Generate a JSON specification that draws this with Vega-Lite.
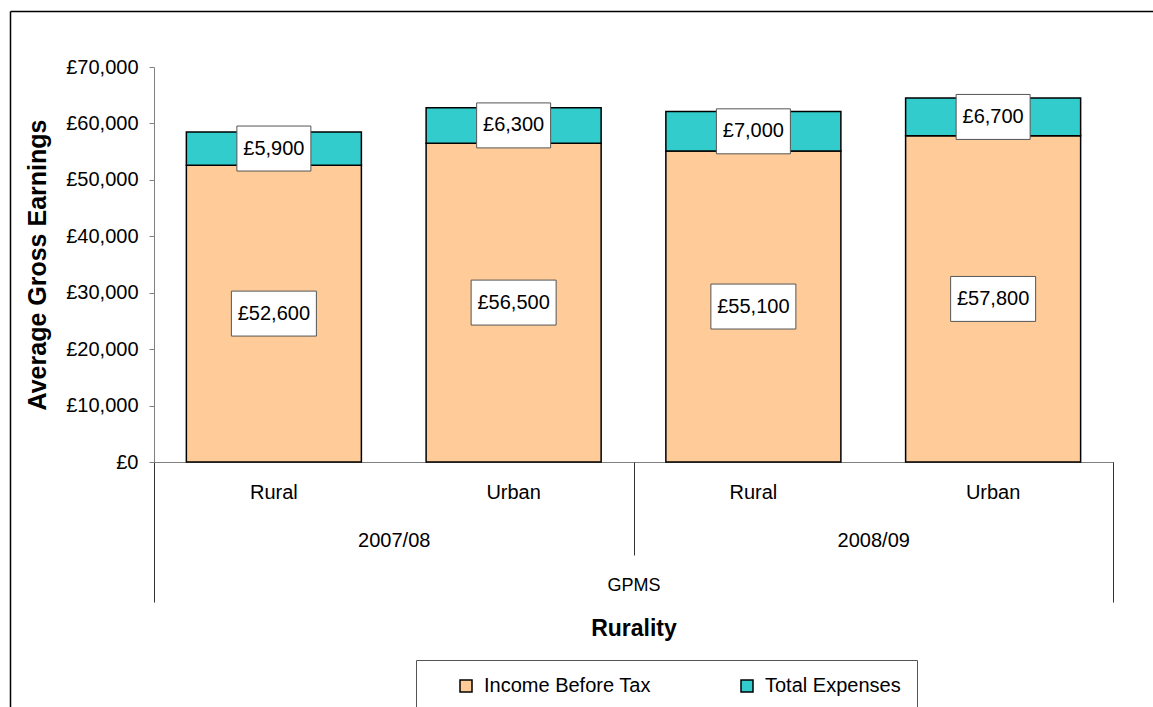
{
  "$schema": "https://vega.github.io/schema/vega-lite/v6.json",
  "width": 959,
  "height": 395,
  "autosize": "none",
  "padding": {"left": 154, "top": 67, "right": 40, "bottom": 245},
  "background": "white",
  "config": {
    "font": "Liberation Sans",
    "locale": {"number": {"decimal": ".", "thousands": ",", "grouping": [3], "currency": ["£", ""]}},
    "view": {"stroke": null},
    "axis": {"labelColor": "#000", "titleColor": "#000", "labelFont": "Liberation Sans", "titleFont": "Liberation Sans", "grid": false}
  },
  "data": {
    "values": [
      {"group": "GPMS", "year": "2007/08", "rurality": "Rural", "cat": "2007/08 Rural", "series": "Income Before Tax", "value": 52600},
      {"group": "GPMS", "year": "2007/08", "rurality": "Rural", "cat": "2007/08 Rural", "series": "Total Expenses", "value": 5900},
      {"group": "GPMS", "year": "2007/08", "rurality": "Urban", "cat": "2007/08 Urban", "series": "Income Before Tax", "value": 56500},
      {"group": "GPMS", "year": "2007/08", "rurality": "Urban", "cat": "2007/08 Urban", "series": "Total Expenses", "value": 6300},
      {"group": "GPMS", "year": "2008/09", "rurality": "Rural", "cat": "2008/09 Rural", "series": "Income Before Tax", "value": 55100},
      {"group": "GPMS", "year": "2008/09", "rurality": "Rural", "cat": "2008/09 Rural", "series": "Total Expenses", "value": 7000},
      {"group": "GPMS", "year": "2008/09", "rurality": "Urban", "cat": "2008/09 Urban", "series": "Income Before Tax", "value": 57800},
      {"group": "GPMS", "year": "2008/09", "rurality": "Urban", "cat": "2008/09 Urban", "series": "Total Expenses", "value": 6700}
    ]
  },
  "layer": [
    {
      "transform": [
        {"stack": "value", "groupby": ["cat"], "sort": [{"field": "series", "order": "ascending"}], "as": ["v0", "v1"]}
      ],
      "encoding": {
        "x": {
          "field": "cat",
          "type": "nominal",
          "sort": ["2007/08 Rural", "2007/08 Urban", "2008/09 Rural", "2008/09 Urban"],
          "scale": {"paddingInner": 0.27, "paddingOuter": 0.135},
          "axis": {
            "orient": "bottom",
            "title": null,
            "labelExpr": "split(datum.value, ' ')[1]",
            "ticks": false,
            "domain": true,
            "domainColor": "#808080",
            "domainWidth": 1,
            "labelFontSize": 20,
            "labelPadding": 20,
            "labelAngle": 0
          }
        }
      },
      "layer": [
        {
          "mark": {"type": "bar", "stroke": "#000", "strokeWidth": 1.5},
          "encoding": {
            "y": {
              "field": "v0",
              "type": "quantitative",
              "scale": {"domain": [0, 70000], "nice": false},
              "axis": {
                "title": "Average Gross Earnings",
                "titleFontSize": 25,
                "titleFontWeight": "bold",
                "titlePadding": 15,
                "values": [0, 10000, 20000, 30000, 40000, 50000, 60000, 70000],
                "format": "$,.0f",
                "labelFontSize": 20,
                "labelPadding": 11,
                "tickSize": 5,
                "tickColor": "#808080",
                "domainColor": "#808080"
              }
            },
            "y2": {"field": "v1"},
            "color": {
              "field": "series",
              "type": "nominal",
              "scale": {"domain": ["Income Before Tax", "Total Expenses"], "range": ["#FFCC99", "#33CCCC"]},
              "legend": {
                "orient": "none",
                "legendX": 262,
                "legendY": 593,
                "direction": "horizontal",
                "title": " ",
                "titleOrient": "left",
                "titlePadding": 24,
                "titleFontSize": 20,
                "strokeColor": "#555",
                "fillColor": "white",
                "padding": 16,
                "symbolType": "square",
                "symbolSize": 144,
                "symbolStrokeColor": "#000",
                "symbolStrokeWidth": 1.5,
                "symbolOpacity": 1,
                "labelFontSize": 20,
                "labelColor": "#000",
                "labelOffset": 8,
                "labelLimit": 400,
                "columnPadding": 86
              }
            }
          }
        },
        {
          "transform": [
            {"fold": ["v0", "v1"], "as": ["edge", "pos"]},
            {"aggregate": [{"op": "mean", "field": "pos", "as": "mid"}], "groupby": ["cat", "series", "value"]}
          ],
          "encoding": {
            "y": {"field": "mid", "type": "quantitative"}
          },
          "layer": [
            {
              "transform": [{"filter": "datum.series === 'Total Expenses'"}],
              "mark": {"type": "point", "shape": "M-1,-0.608L1,-0.608L1,0.608L-1,0.608Z", "size": 5476, "filled": true, "fill": "white", "stroke": "#555", "strokeWidth": 1, "opacity": 1}
            },
            {
              "transform": [{"filter": "datum.series === 'Income Before Tax'"}],
              "mark": {"type": "point", "shape": "M-1,-0.529L1,-0.529L1,0.529L-1,0.529Z", "size": 7225, "filled": true, "fill": "white", "stroke": "#555", "strokeWidth": 1, "opacity": 1}
            },
            {
              "mark": {"type": "text", "fontSize": 20, "color": "#000", "baseline": "middle", "align": "center"},
              "encoding": {
                "text": {"field": "value", "type": "quantitative", "format": "$,.0f"}
              }
            }
          ]
        }
      ]
    },
    {
      "mark": {"type": "rule", "opacity": 0},
      "encoding": {
        "x": {
          "field": "year",
          "type": "nominal",
          "scale": {"type": "band", "paddingInner": 0, "paddingOuter": 0},
          "axis": {
            "orient": "bottom",
            "title": null,
            "domain": false,
            "ticks": true,
            "tickBand": "extent",
            "tickSize": 93,
            "tickColor": "#333",
            "tickWidth": 1,
            "labelFontSize": 20,
            "labelPadding": -25,
            "labelAngle": 0
          }
        }
      }
    },
    {
      "mark": {"type": "rule", "opacity": 0},
      "encoding": {
        "x": {
          "field": "group",
          "type": "nominal",
          "scale": {"type": "band", "paddingInner": 0, "paddingOuter": 0},
          "axis": {
            "orient": "bottom",
            "title": "Rurality",
            "domain": false,
            "ticks": true,
            "tickBand": "extent",
            "tickSize": 140,
            "tickColor": "#333",
            "tickWidth": 1,
            "labelFontSize": 18,
            "labelPadding": -26,
            "labelAngle": 0,
            "titleFontSize": 23,
            "titleFontWeight": "bold",
            "titlePadding": 15
          }
        }
      }
    },
    {
      "mark": {"type": "rule", "opacity": 0},
      "encoding": {
        "x": {
          "field": "group",
          "type": "nominal",
          "scale": {"type": "band", "range": [-144, 1020]},
          "axis": {
            "orient": "top",
            "offset": 56,
            "title": null,
            "labels": false,
            "ticks": false,
            "domain": true,
            "domainColor": "#000",
            "domainWidth": 1.5
          }
        },
        "y": {
          "field": "group",
          "type": "nominal",
          "scale": {"type": "band", "range": [-56, 660]},
          "axis": {
            "orient": "left",
            "offset": 144,
            "title": null,
            "labels": false,
            "ticks": false,
            "domain": true,
            "domainColor": "#000",
            "domainWidth": 1.5
          }
        }
      }
    }
  ],
  "resolve": {"scale": {"x": "independent", "y": "independent"}}
}
